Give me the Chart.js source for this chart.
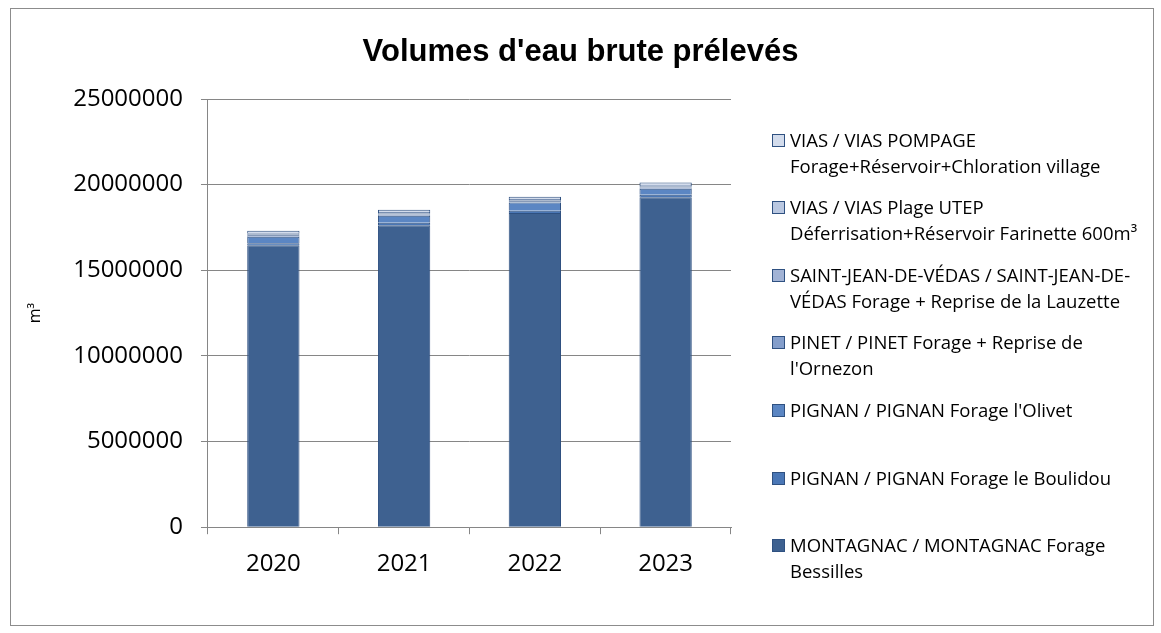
<!DOCTYPE html>
<html>
<head>
<meta charset="utf-8">
<script src="https://cdn.jsdelivr.net/npm/chart.js@4.4.0/dist/chart.umd.min.js"></script>
<style>
  body { margin: 0; background: #fff; }
  #wrap { position: relative; width: 1161px; height: 633px; }
  #frame { position: absolute; left: 10px; top: 8px; width: 1142px; height: 616px; border: 1px solid #8c8c8c; }
  #title { position: absolute; left: 0; width: 1161px; top: 33px; text-align: center;
           font: bold 31px "Liberation Sans", Arial, sans-serif; color: #000; }
  canvas { position: absolute; left: 0; top: 0; }
  #legend { position: absolute; left: 772px; top: 0; font: 18.5px "Open Sans", sans-serif; color: #000; }
  .item { position: absolute; left: 0; white-space: pre; line-height: 26px; width: 380px; }
  .box { position: absolute; left: 0; top: 7px; width: 11px; height: 11px; border: 1px solid #2f5181; }
  .txt { position: absolute; left: 18px; top: 0; }
</style>
</head>
<body>
<div id="wrap">
  <div id="frame"></div>
  <canvas id="chart" width="1161" height="633"></canvas>
  <div id="title">Volumes d'eau brute prélevés</div>
  <div id="legend"></div>
</div>
<script>
// Données
const years = ['2020', '2021', '2022', '2023'];
const montagnac = [16460000, 17630000, 18350000, 19270000];
const pignanBoulidou = [120000, 150000, 130000, 140000];
const pignanOlivet = [380000, 400000, 470000, 350000];
const pinet = [80000, 80000, 80000, 80000];
const saintJean = [60000, 70000, 60000, 70000];
const viasPlage = [60000, 70000, 70000, 70000];
const viasPompage = [150000, 140000, 130000, 140000];
const yTicks = [0, 5000000, 10000000, 15000000, 20000000, 25000000];

const series = [
    { label: 'MONTAGNAC / MONTAGNAC Forage\nBessilles', data: montagnac, color: '#3e6190' },
    { label: 'PIGNAN / PIGNAN Forage le Boulidou', data: pignanBoulidou, color: '#4a77b6' },
    { label: "PIGNAN / PIGNAN Forage l'Olivet", data: pignanOlivet, color: '#5b86c3' },
    { label: "PINET / PINET Forage + Reprise de\nl'Ornezon", data: pinet, color: '#849ecb' },
    { label: 'SAINT-JEAN-DE-VÉDAS / SAINT-JEAN-DE-\nVÉDAS Forage + Reprise de la Lauzette', data: saintJean, color: '#a2b3d5' },
    { label: 'VIAS / VIAS Plage UTEP\nDéferrisation+Réservoir Farinette 600m³', data: viasPlage, color: '#bac8e1' },
    { label: 'VIAS / VIAS POMPAGE\nForage+Réservoir+Chloration village', data: viasPompage, color: '#d3dcec' }
];

const legendTops = [532, 465, 397, 329, 262, 194, 127];

document.addEventListener('DOMContentLoaded', function () {
    const ctx = document.getElementById('chart').getContext('2d');
    new Chart(ctx, {
        type: 'bar',
        data: {
            labels: years,
            datasets: series.map(function (s) {
                return {
                    label: s.label,
                    data: s.data,
                    backgroundColor: s.color,
                    borderColor: '#2f5181',
                    borderWidth: 1,
                    barPercentage: 0.8,
                    categoryPercentage: 0.5
                };
            })
        },
        options: {
            responsive: false,
            animation: false,
            layout: { padding: { left: 22, right: 430, top: 99, bottom: 38 } },
            plugins: {
                legend: { display: false },
                title: { display: false },
                tooltip: { enabled: false }
            },
            scales: {
                x: {
                    stacked: true,
                    grid: { display: true, drawOnChartArea: false, color: '#868686', tickLength: 7, offset: true },
                    border: { color: '#868686' },
                    ticks: { color: '#000', font: { family: 'Open Sans', size: 24 }, padding: 16 }
                },
                y: {
                    stacked: true,
                    min: 0,
                    max: 25000000,
                    afterBuildTicks: function (axis) {
                        axis.ticks = yTicks.map(function (v) { return { value: v }; });
                    },
                    grid: { color: '#868686', tickLength: 7 },
                    border: { color: '#868686' },
                    ticks: { color: '#000', font: { family: 'Open Sans', size: 24 }, padding: 18,
                             callback: function (v) { return String(v); } },
                    title: { display: true, text: 'm³', color: '#000',
                             font: { family: 'Open Sans', size: 16 }, padding: { bottom: 10 } }
                }
            }
        }
    });

    // Légende HTML (ordre inverse, comme dans Excel)
    const legend = document.getElementById('legend');
    series.forEach(function (s, i) {
        const item = document.createElement('div');
        item.className = 'item';
        item.style.top = legendTops[i] + 'px';
        const box = document.createElement('span');
        box.className = 'box';
        box.style.background = s.color;
        const txt = document.createElement('span');
        txt.className = 'txt';
        txt.textContent = s.label;
        item.appendChild(box);
        item.appendChild(txt);
        legend.appendChild(item);
    });
});
</script>
</body>
</html>
